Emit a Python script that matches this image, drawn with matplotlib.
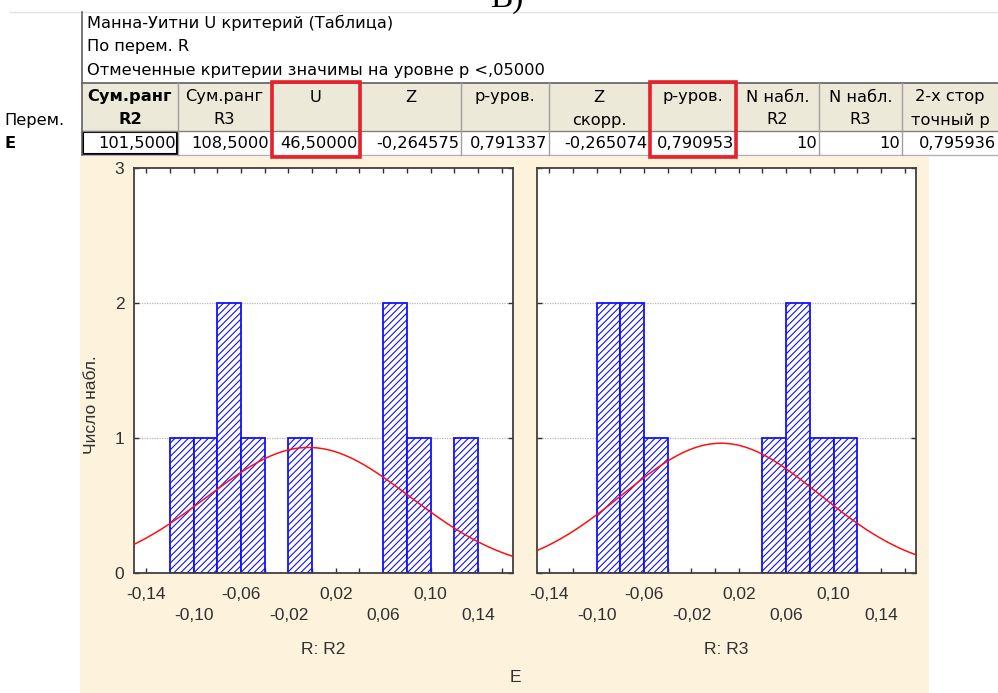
import numpy as np
import matplotlib
matplotlib.use("Agg")
import matplotlib.pyplot as plt
from matplotlib.patches import Rectangle
from matplotlib.lines import Line2D

plt.rcParams['font.family'] = ['Liberation Sans', 'DejaVu Sans']
plt.rcParams['hatch.linewidth'] = 0.8

# ---- Mann-Whitney summary table ----
table_title = ["Манна-Уитни U критерий (Таблица)",
               "По перем. R",
               "Отмеченные критерии значимы на уровне p <,05000"]
row_header = "Перем."
row_name = "E"
col_headers = ["Сум.ранг\nR2", "Сум.ранг\nR3", "U", "Z", "p-уров.",
               "Z\nскорр.", "p-уров.", "N набл.\nR2", "N набл.\nR3",
               "2-х стор\nточный p"]
row_values = ["101,5000", "108,5000", "46,50000", "-0,264575", "0,791337",
              "-0,265074", "0,790953", "10", "10", "0,795936"]
highlighted_cols = [2, 6]

# ---- histogram data (bin left edges and counts) ----
bin_width = 0.02
r2_bins = [-0.12, -0.10, -0.08, -0.06, -0.02, 0.06, 0.08, 0.12]
r2_counts = [1, 1, 2, 1, 1, 2, 1, 1]
r3_bins = [-0.10, -0.08, -0.06, 0.04, 0.06, 0.08, 0.10]
r3_counts = [2, 2, 1, 1, 2, 1, 1]
# fitted normal curve parameters (mean, sd)
r2_fit = (-0.003, 0.0858)
r3_fit = (0.005, 0.0830)
group_labels = ["R: R2", "R: R3"]
y_label = "Число набл."
var_label = "E"

W, H = 998, 693
fig = plt.figure(figsize=(W / 100, H / 100), dpi=100)
fig.patch.set_facecolor("white")


def fx(x):
    return x / W


def fy(y):
    return 1 - y / H


def rect(x0, y0, x1, y1, **kw):
    fig.add_artist(Rectangle((fx(x0), fy(y1)), fx(x1) - fx(x0), fy(y0) - fy(y1),
                             transform=fig.transFigure, **kw))


def hline(y, x0, x1, **kw):
    fig.add_artist(Line2D([fx(x0), fx(x1)], [fy(y), fy(y)], transform=fig.transFigure, **kw))


def vline(x, y0, y1, **kw):
    fig.add_artist(Line2D([fx(x), fx(x)], [fy(y0), fy(y1)], transform=fig.transFigure, **kw))


TFONT = "DejaVu Sans"
TFS = 11.7  # table font size

# heading above the table
fig.text(fx(490), fy(7), "В)", family="Liberation Serif", fontsize=24,
         ha="left", va="baseline")
hline(12, 10, 998, color="#E4E4E4", lw=1)

# title block
for i, line in enumerate(table_title):
    fig.text(fx(87), fy(23 + i * 23.5), line, family=TFONT, fontsize=TFS,
             ha="left", va="center")

col_edges = [82, 178, 271, 360, 461, 549, 649, 736, 819, 902, 998]
hdr_top, hdr_bot, row_bot = 83, 131, 155

rect(82, hdr_top, 998, hdr_bot, facecolor="#ECE9D8", edgecolor="none")
rect(82, hdr_bot, 998, row_bot, facecolor="white", edgecolor="none")
hline(hdr_top, 82, 998, color="#606060", lw=1.2)
hline(hdr_bot, 82, 998, color="#808080", lw=1.0)
hline(row_bot, 82, 998, color="#B0B0B0", lw=1.0)
vline(82, 12, row_bot, color="#606060", lw=1.2)
for x in col_edges[1:-1]:
    vline(x, hdr_top, row_bot, color="#A0A0A0", lw=1.0)

fig.text(fx(4), fy(121), row_header, family=TFONT, fontsize=TFS, ha="left", va="center")
fig.text(fx(4), fy(143), row_name, family=TFONT, fontsize=TFS, ha="left", va="center",
         weight="bold")

for i, (hdr, val) in enumerate(zip(col_headers, row_values)):
    x0, x1 = col_edges[i], col_edges[i + 1]
    lines = hdr.split("\n")
    for j, ln in enumerate(lines):
        fig.text(fx((x0 + x1) / 2), fy(97 + j * 23), ln, family=TFONT, fontsize=TFS,
                 ha="center", va="center", weight="bold" if i == 0 else "normal")
    fig.text(fx(x1 - 2), fy(143), val, family=TFONT, fontsize=TFS, ha="right",
             va="center")

# current-cell frame
rect(83, hdr_bot + 1, 177, row_bot - 1, facecolor="none", edgecolor="black", lw=1.5)
# highlighted columns
for c in highlighted_cols:
    rect(col_edges[c] + 1, 82, col_edges[c + 1], 157, facecolor="none",
         edgecolor="#E8202A", lw=2.6, zorder=5)

# chart panel background
rect(80, 157, 929, 693, facecolor="#FDF2DC", edgecolor="none", zorder=-5)

# ---- histograms ----
xlim = (-0.1505, 0.1697)
major = np.round(np.arange(-0.14, 0.161, 0.02), 2)
row1 = [-0.14, -0.06, 0.02, 0.10]
row2 = [-0.10, -0.02, 0.06, 0.14]


def fmt(v):
    return f"{v:.2f}".replace(".", ",")


panels = [(134, r2_bins, r2_counts, r2_fit, group_labels[0], True),
          (537, r3_bins, r3_counts, r3_fit, group_labels[1], False)]
for left, bins, counts, fit, lab, show_y in panels:
    ax = fig.add_axes([fx(left), fy(573), (379) / W, (573 - 168) / H])
    ax.set_facecolor("white")
    for y in (1, 2):
        ax.axhline(y, color="#B8B8B8", lw=0.9, ls=(0, (1, 1)), zorder=0)
    ax.bar(bins, counts, width=bin_width, align="edge", facecolor="white",
           edgecolor="#1010FF", hatch="/////", linewidth=1.3, zorder=2)
    xs = np.linspace(xlim[0], xlim[1], 300)
    mu, sd = fit
    n = sum(counts)
    ys = n * bin_width * np.exp(-0.5 * ((xs - mu) / sd) ** 2) / (sd * np.sqrt(2 * np.pi))
    ax.plot(xs, ys, color="#FF1010", lw=1.1, zorder=3)
    ax.set_xlim(*xlim)
    ax.set_ylim(0, 3)
    ax.set_yticks([0, 1, 2, 3])
    ax.set_xticks(major)
    ax.set_xticklabels([fmt(v) if np.isclose(v, row1).any() else "" for v in major])
    ax.set_xticks(row2, minor=True)
    ax.set_xticklabels([fmt(v) for v in row2], minor=True)
    ax.xaxis.remove_overlapping_locs = False
    ax.tick_params(axis="x", which="major", direction="in", length=3.5, width=1,
                   top=True, pad=10, labelsize=12.5, colors="#303030")
    ax.tick_params(axis="x", which="minor", length=0, pad=25, labelsize=12.5,
                   colors="#303030")
    ax.tick_params(axis="y", direction="in", length=3.5, width=1, right=True,
                   pad=7, labelsize=12.5, labelleft=show_y, colors="#303030")
    for s in ax.spines.values():
        s.set_color("#404040")
        s.set_linewidth(1.3)
    fig.text(fx(left + 189.5), fy(650), lab, fontsize=12.5, ha="center", va="center",
             color="#303030")

fig.text(fx(91), fy(405), y_label, fontsize=12.5, rotation=90, ha="center",
         va="center", color="#303030")
fig.text(fx(515), fy(677), var_label, fontsize=12.5, ha="center", va="center",
         color="#303030")

fig.savefig("out.png", dpi=100)
